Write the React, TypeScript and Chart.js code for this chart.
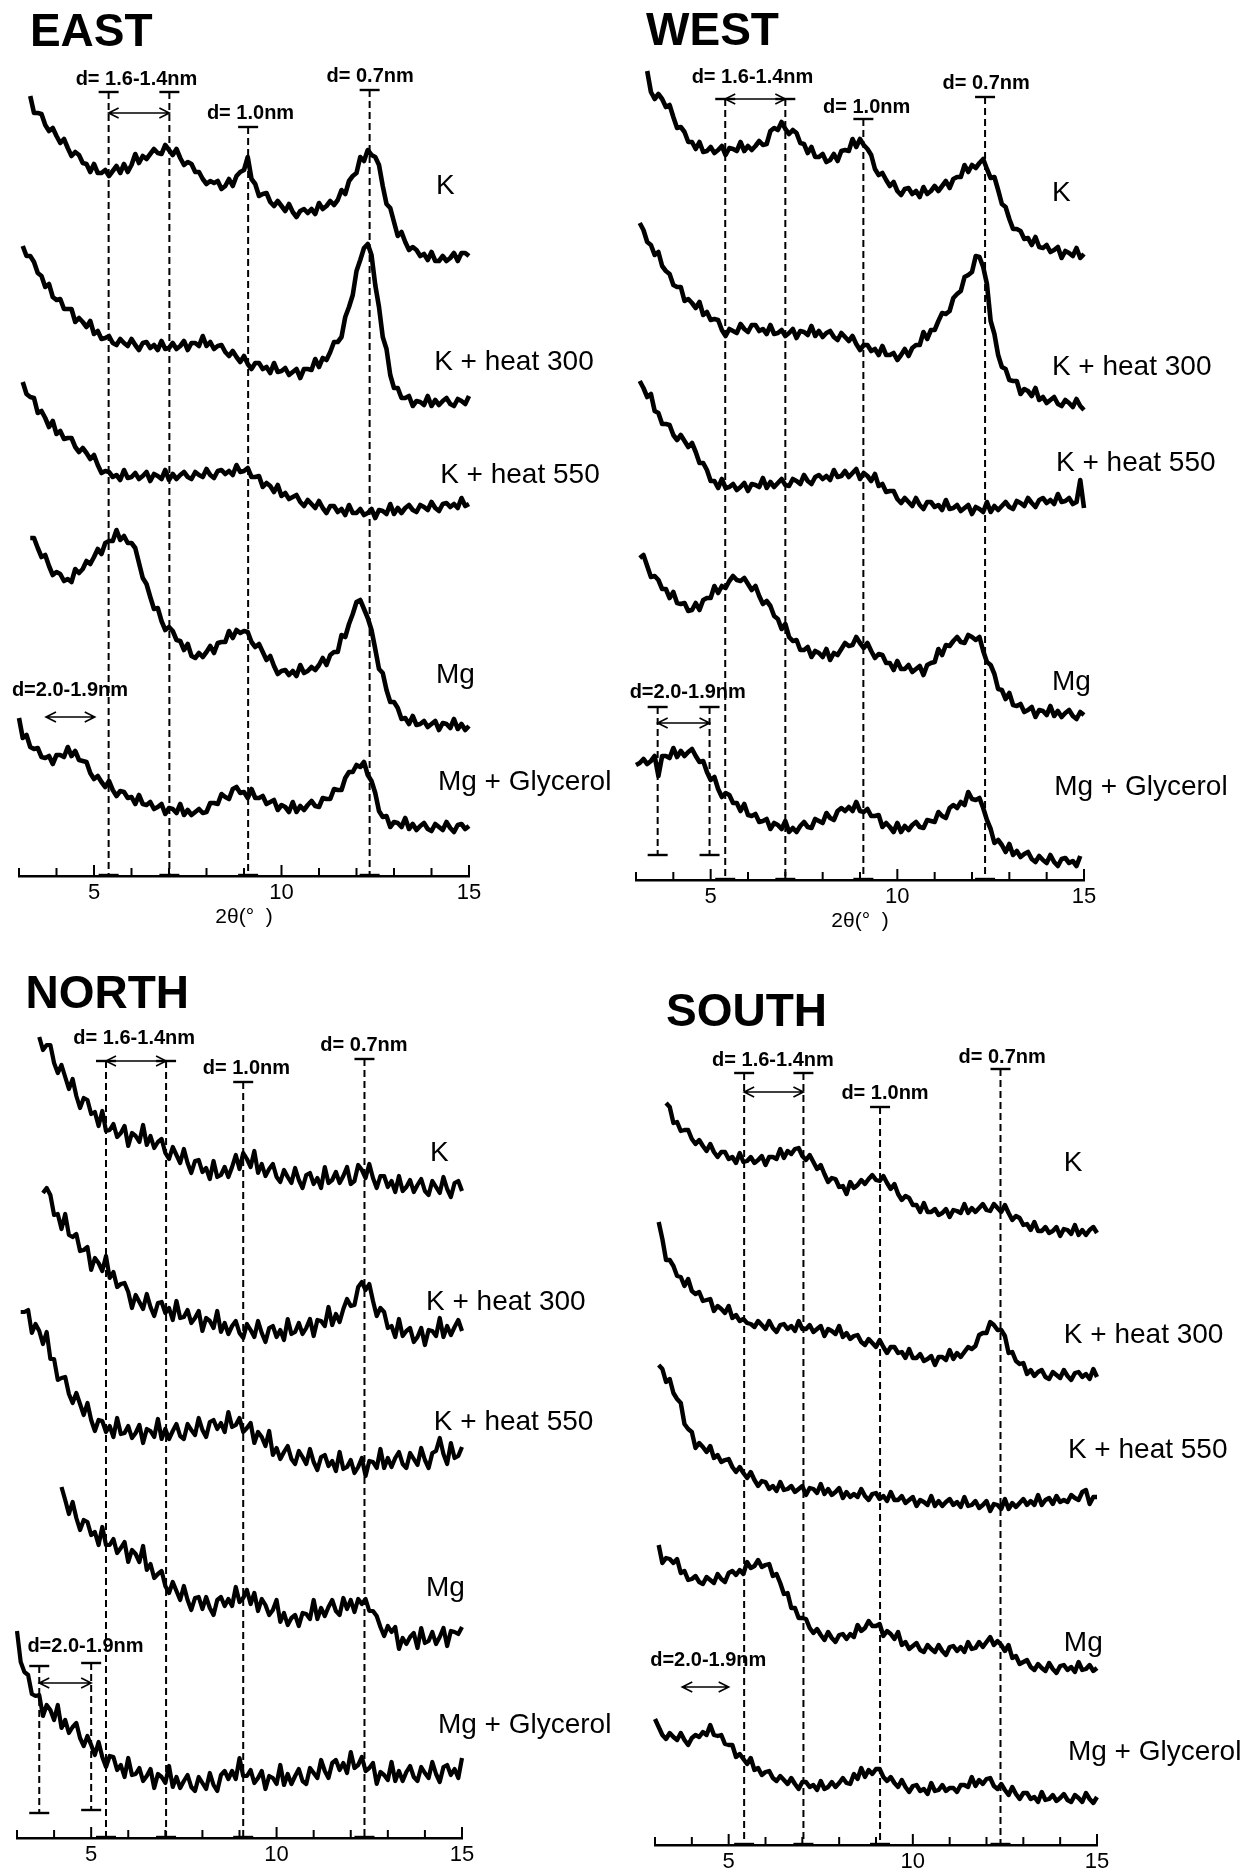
import React, { useEffect, useRef } from 'react';
import { Chart, registerables } from 'chart.js';

Chart.register(...registerables);

const STEP = 0.1;
const X_MIN = 3;
const X_MAX = 15;
const MAJOR_TICKS = [5, 10, 15];
const X_TITLE = '2θ(°  )';
const SERIES_NAMES = ['K', 'K + heat 300', 'K + heat 550', 'Mg', 'Mg + Glycerol'];
const FONT = '"Liberation Sans", Arial, Helvetica, sans-serif';

// ---------------- EAST ----------------
const EAST_START = [3.3, 3.1, 3.1, 3.3, 3.0];
const EAST_OFFSET = [600, 450, 350, 130, 30];
const EAST_K = [180,163,163,162,151,145,148,140,133,137, 128,120,124,121,113,112,104,112,103,103, 106,100,105,110,103,112,104,111,122,113, 120,117,122,127,123,122,131,126,121,127, 118,111,114,112,104,104,97,92,95,93, 95,87,90,97,90,100,104,106,119,97, 92,80,82,83,74,70,75,70,65,72, 64,59,65,67,63,67,62,73,67,70, 75,71,76,86,82,95,100,103,119,115, 126,121,119,111,90,72,68,54,40,44, 34,26,29,26,20,22,16,24,15,15, 20,15,18,23,15,23,23,20,30,21];
const EAST_K300 = [180,170,170,164,153,150,139,142,129,126, 127,117,117,117,104,108,104,99,105,92, 95,87,88,90,83,81,87,83,80,87, 81,76,83,84,78,81,76,85,77,78, 83,77,80,85,76,83,83,80,90,80, 84,77,80,81,74,70,75,69,64,70, 62,57,63,63,57,59,53,63,54,55, 58,51,54,57,48,57,57,56,67,59, 68,66,74,84,84,89,109,119,131,155, 166,178,182,171,141,119,89,77,51,38, 38,28,28,30,20,25,24,21,30,20, 26,21,25,28,22,20,27,25,22,30, 25];
const EAST_K550 = [144,132,129,128,113,115,108,99,105,92, 95,87,88,88,79,74,78,73,67,71, 61,53,55,54,49,51,46,56,48,49, 53,47,50,54,45,52,50,47,56,46, 52,47,51,54,49,47,54,51,49,57, 51,48,55,56,52,55,51,61,54,55, 58,49,49,50,39,43,40,34,41,30, 33,27,29,31,24,20,26,22,18,25, 18,13,20,20,14,17,11,21,13,13, 17,11,13,17,8,16,15,12,22,12, 18,13,18,21,16,14,21,19,16,24, 18,15,22,23,19,22,18,28,20,22, 26];
const EAST_MG = [208,208,198,189,191,180,171,174,172,165, 167,164,177,173,177,185,182,189,197,192, 203,205,205,216,206,210,203,203,198,183, 168,162,149,137,138,125,116,119,115,106, 105,96,102,90,88,93,89,94,100,93, 103,104,104,115,108,116,113,115,114,104, 99,102,94,86,90,80,72,75,76,71, 75,70,81,73,75,79,76,81,88,81, 91,94,94,111,109,122,132,144,146,137, 128,116,97,77,73,56,44,44,38,27, 28,22,30,21,22,25,19,22,25,16, 23,22,18,27,17,22,16,20,23];
const EAST_MGG = [128,108,111,99,97,98,89,88,90,82, 91,91,89,99,90,95,86,85,84,73, 67,70,64,59,65,56,50,55,54,48, 49,42,51,42,41,44,37,39,42,32, 38,37,33,42,31,36,31,34,37,33, 34,43,43,42,52,49,47,57,59,53, 54,48,57,48,48,50,42,44,46,36, 41,39,34,44,34,40,36,41,45,40, 39,48,47,47,57,56,56,68,74,74, 81,79,84,71,65,53,35,29,30,19, 24,23,19,28,17,22,16,20,23,17, 15,22,19,16,24,18,14,21,22,17, 20];

// ---------------- WEST ----------------
const WEST_START = [3.3, 3.1, 3.1, 3.1, 3.0];
const WEST_OFFSET = [600, 450, 330, 150, 0];
const WEST_K = [209,188,181,186,181,173,175,163,152,153, 148,138,138,131,138,128,129,133,127,130, 134,125,132,131,129,138,129,134,130,134, 139,135,136,149,152,150,158,151,146,150, 147,137,136,127,133,123,123,126,118,120, 126,119,129,130,129,141,133,141,135,131, 125,111,105,107,100,94,98,89,85,91, 92,86,89,83,93,86,89,94,89,94, 99,92,101,103,103,115,108,115,112,117, 121,111,102,103,90,76,73,61,51,51, 49,41,42,35,43,33,32,35,28,30, 33,22,29,27,24,32,22,26,21,24];
const WEST_K300 = [207,200,188,185,175,178,164,159,156,145, 143,143,129,131,127,122,128,115,118,110, 111,110,100,94,101,99,97,106,101,98, 105,105,99,101,96,105,96,97,100,94, 97,101,92,99,98,95,104,94,99,93, 97,99,93,90,97,93,89,94,86,80, 85,85,79,81,75,84,75,75,77,70, 75,81,74,82,85,85,98,91,100,100, 109,117,116,119,132,136,139,153,155,158, 174,173,163,146,109,96,75,63,61,50, 49,49,36,41,39,34,42,30,33,27, 30,33,26,24,30,27,23,31,24,20, 27];
const WEST_K550 = [169,162,153,156,139,137,126,126,125,115, 110,115,109,103,107,98,87,87,80,69, 69,62,71,62,63,66,60,63,67,59, 66,65,63,72,62,68,63,67,71,65, 64,71,69,66,75,69,66,73,75,71, 74,70,80,73,74,79,73,77,81,71, 77,74,69,76,64,66,58,59,59,51, 47,52,48,44,52,45,41,48,48,43, 45,40,50,41,42,45,39,42,45,36, 43,41,38,48,38,44,40,44,48,43, 41,49,47,44,52,47,43,50,52,47, 50,46,56,48,49,52,46,48,70,42, 49];
const WEST_MG = [172,175,164,153,154,150,141,141,132,138, 127,126,127,119,120,127,120,130,132,132, 144,137,144,142,149,154,150,149,152,146, 140,144,134,126,129,124,114,111,101,106, 93,89,90,80,80,83,73,79,77,73, 81,70,77,75,81,87,84,85,93,87, 82,87,79,72,76,75,67,67,60,69, 61,61,65,58,61,64,55,65,67,68, 81,75,85,84,89,93,88,87,95,93, 90,93,79,68,65,56,41,40,31,37, 25,24,26,18,20,23,13,20,19,15, 24,14,19,13,17,20,14,11,18,15, 12];
const WEST_MGG = [115,117,121,116,119,124,104,124,124,122, 132,123,129,124,128,131,124,118,119,108, 100,103,91,83,87,85,77,77,69,76, 65,64,66,58,59,61,51,57,55,51, 59,48,52,48,54,58,53,52,61,59, 57,67,62,60,69,72,69,73,69,78, 69,68,71,64,64,65,53,57,53,48, 57,48,54,50,55,58,53,52,60,59, 58,68,64,62,72,75,72,78,75,88, 81,80,82,72,60,51,37,40,35,28, 36,25,29,23,26,28,21,18,24,20, 17,25,18,14,21,22,17,19,14,24];

// ---------------- NORTH ----------------
const NORTH_START = [3.6, 3.7, 3.1, 4.2, 3.0];
const NORTH_OFFSET = [620, 480, 360, 180, 0];
const NORTH_K = [181,168,173,173,155,145,153,141,129,139, 122,110,120,118,104,106,92,107,87,88, 94,81,85,92,72,85,82,76,93,73, 82,70,76,79,65,59,71,63,55,69, 55,45,57,58,46,50,39,57,41,43, 51,41,51,63,49,65,59,51,67,45, 54,42,49,54,41,36,48,41,35,50, 38,30,43,45,34,40,30,51,35,38, 46,35,42,51,34,37,53,48,40,54, 40,30,42,42,31,37,26,42,27,31, 38,26,33,39,27,23,37,31,25,41, 29,21,35,37,27,33,23];
const NORTH_K300 = [165,170,163,143,144,129,144,123,121,124, 107,108,111,88,100,95,87,102,80,86, 71,74,75,66,50,63,56,49,64,51, 42,55,56,45,50,38,57,40,41,48, 35,40,47,27,40,37,30,47,26,35, 24,32,37,25,20,34,28,21,37,25, 16,30,32,21,28,18,39,24,26,35, 24,30,39,22,38,37,32,51,33,44, 36,49,59,52,53,71,76,68,74,57, 42,50,46,30,32,21,39,22,27,30, 16,21,30,13,28,27,22,40,21,32, 23,31,38,27];
const NORTH_K550 = [166,166,168,145,154,147,134,146,119,119, 98,100,101,84,75,85,74,63,75,58, 47,58,57,46,52,41,60,44,45,52, 40,45,53,35,49,47,41,59,39,49, 39,47,54,42,39,54,48,43,60,48, 41,56,58,49,55,46,66,51,53,60, 46,50,55,35,46,41,32,47,23,30, 19,26,32,19,14,27,21,14,29,16, 8,21,23,12,17,7,26,9,11,18, 5,11,20,2,17,16,10,29,10,20, 11,20,26,14,10,25,19,13,30,18, 10,25,27,40,24,14,35,20,22,31];
const NORTH_MG = [171,158,144,156,140,128,138,136,123,126, 113,131,113,113,119,105,110,116,96,108, 104,96,112,88,94,80,84,87,72,65, 76,67,58,72,58,48,60,61,49,61, 50,43,58,61,52,59,52,71,56,60, 68,54,65,47,59,53,43,48,58,36, 45,33,40,43,32,45,44,39,58,39, 50,42,51,58,47,43,60,49,58,46, 59,54,59,47,47,42,31,22,32,26, 31,9,20,14,21,25,10,30,15,17, 26,14,21,30,12,27,26,24,31];
const NORTH_MGG = [207,176,166,163,144,142,143,122,133,128, 118,133,110,118,105,111,115,100,92,102, 93,83,96,81,71,82,81,68,73,61, 80,63,64,70,57,62,69,50,64,61, 55,72,51,61,50,57,63,51,47,61, 55,49,65,53,47,63,67,59,67,59, 80,62,62,68,55,60,67,49,62,60, 54,73,53,64,54,62,69,57,54,70, 65,60,78,67,60,75,78,68,75,65, 86,70,73,81,67,70,75,54,66,63, 58,76,57,67,57,66,72,61,57,71, 65,60,76,64,56,71,73,63,69,60, 80];

// ---------------- SOUTH ----------------
const SOUTH_START = [3.3, 3.1, 3.1, 3.1, 3.0];
const SOUTH_OFFSET = [600, 450, 320, 160, 0];
const SOUTH_K = [142,138,122,123,114,115,115,106,101,105, 99,94,101,93,88,93,93,86,88,82, 92,83,84,88,82,85,89,80,88,88, 86,96,87,94,91,96,97,89,85,90, 83,76,80,71,63,67,66,58,59,51, 63,57,60,65,61,66,70,65,64,69, 62,56,61,51,45,49,47,40,40,33, 42,33,33,36,30,32,36,28,35,34, 32,41,32,37,33,37,41,35,34,41, 37,33,40,32,25,29,27,20,21,15, 23,14,14,18,12,14,18,9,16,15, 11,20,10,15,10,15,18,12,11,18];
const SOUTH_K300 = [173,156,135,135,129,119,118,109,116,104, 101,103,94,95,96,84,89,86,82,89, 77,80,74,76,72,71,68,74,70,66, 74,67,63,70,71,66,69,64,74,66, 66,70,63,66,69,59,66,64,61,69, 58,62,56,59,60,53,50,56,52,48, 55,48,42,48,48,42,43,37,46,37, 37,41,34,36,39,30,38,38,35,45, 36,42,38,43,48,46,49,60,62,62, 73,70,65,65,59,42,43,34,31,32, 21,25,19,23,25,18,16,23,20,17, 25,19,15,22,23,18,21,16,26,18];
const SOUTH_K550 = [160,156,143,146,132,126,122,101,96,93, 77,82,78,73,79,67,70,63,65,66, 58,53,58,52,47,53,45,39,44,43, 36,39,34,43,35,36,39,33,36,39, 30,37,36,32,41,31,36,30,33,37, 27,33,28,31,28,36,29,25,31,32, 26,29,24,33,25,25,29,22,25,28, 19,25,23,20,29,19,24,19,23,26, 20,23,18,28,19,20,24,17,20,24, 14,21,20,16,26,16,22,18,22,26, 20,24,20,30,20,25,27,21,29,23, 25,23,30,27,25,33,35,21,28,28];
const SOUTH_MG = [140,122,127,126,122,126,112,114,105,106, 109,103,101,108,105,102,111,106,103,112, 114,110,115,111,123,117,119,125,118,120, 121,109,111,102,91,92,77,77,67,67, 66,57,52,56,50,45,53,47,43,50, 51,46,51,48,60,54,57,64,59,59, 61,49,54,51,46,53,40,43,36,39, 42,35,33,40,36,33,40,34,30,38, 39,34,38,33,43,36,37,43,38,43, 48,40,44,40,34,40,27,29,21,23, 25,18,15,21,17,14,22,16,12,19, 20,15,18,13,23,15,16,20,14,17];
const SOUTH_MGG = [126,118,110,106,112,108,105,112,105,100, 107,110,108,113,110,120,110,109,110,101, 100,100,88,91,86,81,87,75,77,70, 73,74,67,64,69,65,61,67,61,56, 63,63,58,60,55,64,56,58,63,58, 62,67,62,61,71,66,77,68,75,71, 76,76,68,64,68,62,58,65,58,53, 59,60,54,56,51,62,54,55,60,54, 57,57,53,60,60,58,68,59,65,61, 66,67,59,56,61,55,50,58,51,46, 52,52,46,48,43,53,45,46,50,44, 47,51,45,43,50,47,43,52,46,42, 48];

// ------------- annotation values (2θ positions, heights above the axis) -------------
const EAST_LINES = [5.39, 7.01, 9.11, 12.35];
const EAST_CAPS = [784, 784, 749, 786];
const WEST_LINES = [5.39, 7.0, 9.09, 12.35];
const WEST_CAPS = [781, 781, 761, 783];
const NORTH_LINES = [5.4, 7.02, 9.1, 12.37];
const NORTH_CAPS = [777, 777, 756, 779];
const SOUTH_LINES = [5.42, 7.03, 9.11, 12.38];
const SOUTH_CAPS = [772, 772, 738, 776];

const D_TEXTS = ['d= 1.6-1.4nm', 'd= 1.0nm', 'd= 0.7nm', 'd=2.0-1.9nm'];
const EAST_DX = [4.51, 8.01, 11.2, 2.81];
const EAST_DY = [797, 763, 800, 186];
const WEST_DX = [4.49, 8.01, 11.21, 2.83];
const WEST_DY = [803, 773, 797, 188];
const NORTH_DX = [4.52, 8.01, 11.18, 3.28];
const NORTH_DY = [800, 770, 793, 192];
const SOUTH_DX = [4.55, 8.06, 11.24, 2.87];
const SOUTH_DY = [785, 752, 788, 185];

const EAST_LABEL_X = [14.12, 14.07, 14.23, 14.12, 14.17];
const EAST_LABEL_Y = [690, 514, 401, 201, 94];
const WEST_LABEL_X = [14.14, 14.14, 14.25, 14.14, 14.2];
const WEST_LABEL_Y = [687, 513, 417, 198, 93];
const NORTH_LABEL_X = [14.14, 14.03, 14.24, 14.03, 14.35];
const NORTH_LABEL_Y = [685, 536, 416, 250, 113];
const SOUTH_LABEL_X = [14.1, 14.1, 14.21, 14.1, 14.21];
const SOUTH_LABEL_Y = [682, 510, 395, 202, 93];

type Panel = any;

const PANELS: Panel[] = [
  {
    name: 'EAST', left: 0, top: 0, w: 624, h: 940, axisY: 876, padL: 19, padR: 155, axisH: 56, xTitle: true,
    starts: EAST_START, offsets: EAST_OFFSET, series: [EAST_K, EAST_K300, EAST_K550, EAST_MG, EAST_MGG],
    labelX: EAST_LABEL_X, labelY: EAST_LABEL_Y, titleX: 3.29, titleY: 843,
    lines: EAST_LINES, caps: EAST_CAPS, arrowY: 763, dx: EAST_DX, dy: EAST_DY,
    arrow2: [3.72, 5.02, 159], lines2: null, lw: 4.6,
  },
  {
    name: 'WEST', left: 624, top: 0, w: 624, h: 940, axisY: 880, padL: 12, padR: 164, axisH: 56, xTitle: true,
    starts: WEST_START, offsets: WEST_OFFSET, series: [WEST_K, WEST_K300, WEST_K550, WEST_MG, WEST_MGG],
    labelX: WEST_LABEL_X, labelY: WEST_LABEL_Y, titleX: 3.27, titleY: 848,
    lines: WEST_LINES, caps: WEST_CAPS, arrowY: 781, dx: WEST_DX, dy: WEST_DY,
    arrow2: [3.58, 4.97, 157], lines2: [[3.58, 173, 25], [4.97, 173, 25]], lw: 4.6,
  },
  {
    name: 'NORTH', left: 0, top: 940, w: 624, h: 929, axisY: 898, padL: 17, padR: 162, axisH: 31, xTitle: false,
    starts: NORTH_START, offsets: NORTH_OFFSET, series: [NORTH_K, NORTH_K300, NORTH_K550, NORTH_MG, NORTH_MGG],
    labelX: NORTH_LABEL_X, labelY: NORTH_LABEL_Y, titleX: 3.23, titleY: 843,
    lines: NORTH_LINES, caps: NORTH_CAPS, arrowY: 777, dx: NORTH_DX, dy: NORTH_DY,
    arrow2: [3.6, 5.0, 155], lines2: [[3.6, 172, 25], [5.0, 175, 28]], lw: 4.2,
  },
  {
    name: 'SOUTH', left: 624, top: 940, w: 624, h: 929, axisY: 905, padL: 31, padR: 151, axisH: 24, xTitle: false,
    starts: SOUTH_START, offsets: SOUTH_OFFSET, series: [SOUTH_K, SOUTH_K300, SOUTH_K550, SOUTH_MG, SOUTH_MGG],
    labelX: SOUTH_LABEL_X, labelY: SOUTH_LABEL_Y, titleX: 3.3, titleY: 832,
    lines: SOUTH_LINES, caps: SOUTH_CAPS, arrowY: 753, dx: SOUTH_DX, dy: SOUTH_DY,
    arrow2: [3.74, 5.0, 158], lines2: null, lw: 4.4,
  },
];

function drawArrow(ctx: CanvasRenderingContext2D, x1: number, x2: number, y: number) {
  const hl = 10, hw = 5;
  ctx.beginPath();
  ctx.moveTo(x1, y); ctx.lineTo(x2, y);
  ctx.moveTo(x1 + hl, y - hw); ctx.lineTo(x1, y); ctx.lineTo(x1 + hl, y + hw);
  ctx.moveTo(x2 - hl, y - hw); ctx.lineTo(x2, y); ctx.lineTo(x2 - hl, y + hw);
  ctx.stroke();
}

function capBar(ctx: CanvasRenderingContext2D, x: number, y: number) {
  ctx.beginPath(); ctx.moveTo(x - 10, y); ctx.lineTo(x + 10, y); ctx.stroke();
}

function makeOverlay(p: Panel) {
  return {
    id: 'xrdOverlay',
    beforeDatasetsDraw(chart: any) {
      const ctx = chart.ctx as CanvasRenderingContext2D;
      const xs = chart.scales.x, ys = chart.scales.y;
      ctx.save();
      ctx.strokeStyle = '#000';
      ctx.lineWidth = 2;
      ctx.setLineDash([7, 4]);
      p.lines.forEach((lx: number, i: number) => {
        const px = xs.getPixelForValue(lx);
        ctx.beginPath(); ctx.moveTo(px, ys.getPixelForValue(p.caps[i])); ctx.lineTo(px, ys.getPixelForValue(0)); ctx.stroke();
      });
      if (p.lines2) {
        p.lines2.forEach((l: number[]) => {
          const px = xs.getPixelForValue(l[0]);
          ctx.beginPath(); ctx.moveTo(px, ys.getPixelForValue(l[1])); ctx.lineTo(px, ys.getPixelForValue(l[2])); ctx.stroke();
        });
      }
      ctx.restore();
    },
    afterDraw(chart: any) {
      const ctx = chart.ctx as CanvasRenderingContext2D;
      const xs = chart.scales.x, ys = chart.scales.y;
      const X = (v: number) => xs.getPixelForValue(v);
      const Y = (v: number) => ys.getPixelForValue(v);
      const axisPx = Y(0);
      ctx.save();
      ctx.strokeStyle = '#000';
      ctx.fillStyle = '#000';
      ctx.setLineDash([]);
      ctx.lineWidth = 2;
      xs.ticks.forEach((t: any) => {
        const px = X(t.value);
        const len = MAJOR_TICKS.includes(t.value) ? 11 : 8;
        ctx.beginPath(); ctx.moveTo(px, axisPx); ctx.lineTo(px, axisPx - len); ctx.stroke();
      });
      ctx.lineWidth = 2.4;
      p.lines.forEach((lx: number, i: number) => {
        capBar(ctx, X(lx), Y(p.caps[i]));
        capBar(ctx, X(lx), axisPx - 1);
      });
      if (p.lines2) {
        p.lines2.forEach((l: number[]) => {
          capBar(ctx, X(l[0]), Y(l[1]));
          capBar(ctx, X(l[0]), Y(l[2]));
        });
      }
      ctx.lineWidth = 1.6;
      drawArrow(ctx, X(p.lines[0]), X(p.lines[1]), Y(p.arrowY));
      drawArrow(ctx, X(p.arrow2[0]), X(p.arrow2[1]), Y(p.arrow2[2]));
      ctx.textBaseline = 'middle';
      ctx.textAlign = 'left';
      ctx.font = `bold 46px ${FONT}`;
      ctx.fillText(p.name, X(p.titleX), Y(p.titleY));
      ctx.font = `bold 20px ${FONT}`;
      D_TEXTS.forEach((s, i) => ctx.fillText(s, X(p.dx[i]), Y(p.dy[i])));
      ctx.font = `28px ${FONT}`;
      SERIES_NAMES.forEach((s, i) => ctx.fillText(s, X(p.labelX[i]), Y(p.labelY[i])));
      ctx.restore();
    },
  };
}

function PanelChart({ p }: { p: Panel }) {
  const ref = useRef<HTMLCanvasElement | null>(null);
  useEffect(() => {
    if (!ref.current) return;
    const datasets = p.series.map((vals: number[], k: number) => ({
      label: SERIES_NAMES[k],
      data: vals.map((v: number, i: number) => ({ x: Math.round((p.starts[k] + i * STEP) * 100) / 100, y: v + p.offsets[k] })),
      borderColor: '#000',
      borderWidth: p.lw,
      borderJoinStyle: 'round',
      pointRadius: 0,
      pointHoverRadius: 0,
      fill: false,
      tension: 0,
      clip: false,
    }));
    const chart = new Chart(ref.current, {
      type: 'line',
      data: { datasets },
      options: {
        responsive: false,
        animation: false,
        devicePixelRatio: 1,
        events: [],
        layout: { padding: { left: p.padL, right: p.padR, top: 0, bottom: p.h - p.axisY - p.axisH }, autoPadding: false },
        plugins: { legend: { display: false }, tooltip: { enabled: false } },
        scales: {
          x: {
            type: 'linear',
            min: X_MIN,
            max: X_MAX,
            afterFit: (s: any) => { s.height = p.axisH; },
            grid: { display: false, drawTicks: false },
            border: { display: true, color: '#000', width: 2.5 },
            ticks: {
              stepSize: 1, autoSkip: false, maxRotation: 0, minRotation: 0, padding: 4, color: '#000',
              font: { family: FONT, size: 22 },
              callback: (v: any) => (MAJOR_TICKS.includes(Number(v)) ? String(v) : ''),
            },
            title: {
              display: p.xTitle, text: X_TITLE, color: '#000',
              font: { family: FONT, size: 21 }, padding: { top: 0, bottom: 2 },
            },
          },
          y: { type: 'linear', display: false, min: 0, max: p.axisY },
        },
      } as any,
      plugins: [makeOverlay(p)],
    } as any);
    return () => chart.destroy();
  }, [p]);
  return (
    <canvas
      ref={ref}
      width={p.w}
      height={p.h}
      style={{ position: 'absolute', left: p.left, top: p.top, width: p.w, height: p.h }}
    />
  );
}

export default function App() {
  return (
    <div style={{ position: 'absolute', left: 0, top: 0, width: 1248, height: 1869, background: '#fff', overflow: 'hidden' }}>
      {PANELS.map((p) => (
        <PanelChart key={p.name} p={p} />
      ))}
    </div>
  );
}
